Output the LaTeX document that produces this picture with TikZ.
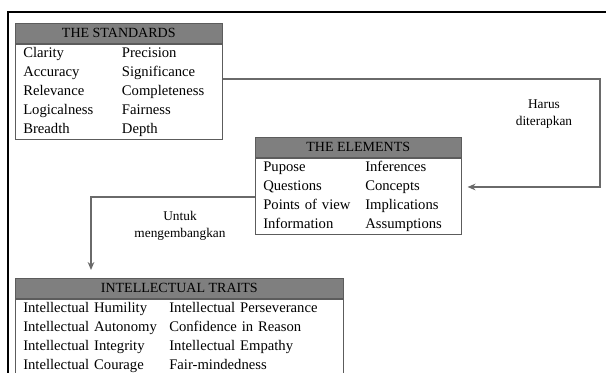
\documentclass[tikz,border=0pt]{standalone}
\usepackage{fontspec}
\setmainfont{Liberation Serif}
\usetikzlibrary{positioning,arrows.meta,calc}
\definecolor{headgray}{HTML}{7F7F7F}
\definecolor{edgegray}{HTML}{5C5C5C}
\definecolor{linegray}{HTML}{6A6A6A}

\begin{document}
\begin{tikzpicture}[
    x=0.75pt, y=-0.75pt,
    head/.style={draw=edgegray, fill=headgray, minimum height=15pt, inner sep=0pt, anchor=north west, font=\fontsize{10.5}{12}\selectfont},
    body/.style={draw=edgegray, inner xsep=6pt, inner ysep=0pt, align=left, font=\fontsize{11}{14.25}\selectfont},
    arr/.style={-{Stealth[length=6pt,width=5pt]}, line width=1.1pt, linegray},
    note/.style={align=center, font=\fontsize{10}{12.5}\selectfont}
  ]
    \useasboundingbox (0,0) rectangle (606,373);
    \draw[line width=1.5pt] (606,12) -- (8,12) -- (8,373);

    \node[head, minimum width=155.25pt] (stdh) at (15,23) {THE STANDARDS};
    \node[body, text width=143.25pt, below=0pt of stdh] (std) {\begin{tabular}{@{}p{74pt}@{}l@{}}
      Clarity & Precision\\
      Accuracy & Significance\\
      Relevance & Completeness\\
      Logicalness & Fairness\\
      Breadth & Depth
    \end{tabular}};

    \node[head, minimum width=154.5pt] (elh) at (255,137) {THE ELEMENTS};
    \node[body, text width=142.5pt, below=0pt of elh] (el) {\begin{tabular}{@{}p{76.5pt}@{}l@{}}
      Pupose & Inferences\\
      Questions & Concepts\\
      Points of view & Implications\\
      Information & Assumptions
    \end{tabular}};

    \node[head, minimum width=246pt] (trth) at (15,278) {INTELLECTUAL TRAITS};
    \node[body, text width=234pt, below=0pt of trth] (trt) {\begin{tabular}{@{}p{109.5pt}@{}l@{}}
      Intellectual Humility & Intellectual Perseverance\\
      Intellectual Autonomy & Confidence in Reason\\
      Intellectual Integrity & Intellectual Empathy\\
      Intellectual Courage & Fair-mindedness
    \end{tabular}};

    \coordinate (bendA) at (600,187);
    \coordinate (bendB) at (91,197);
    \draw[arr, shorten >=4.5pt] (std.east |- 0,79) -| (bendA) -- (el.east |- bendA);
    \draw[arr, shorten >=6pt] (el.west |- bendB) -| (trth.north -| bendB);

    \node[note] (harus) at (544,114) {Harus\\diterapkan};
    \node[note] (untuk) at (180,225.5) {Untuk\\mengembangkan};
  \end{tikzpicture}
\end{document}
